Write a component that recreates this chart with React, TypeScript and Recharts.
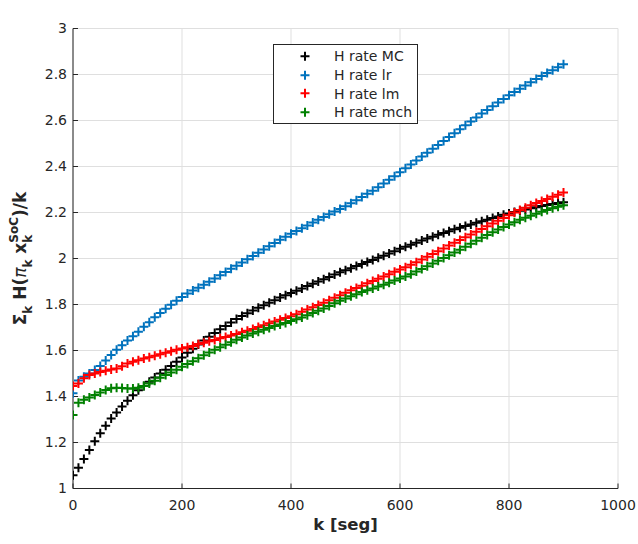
import React from 'react';
import { LineChart, Line, XAxis, YAxis, CartesianGrid, Legend, Label } from 'recharts';

const K = [0, 10, 20, 30, 40, 50, 60, 70, 80, 90, 100, 110, 120, 130, 140, 150, 160, 170, 180, 190, 200, 210, 220, 230, 240, 250, 260, 270, 280, 290, 300, 310, 320, 330, 340, 350, 360, 370, 380, 390, 400, 410, 420, 430, 440, 450, 460, 470, 480, 490, 500, 510, 520, 530, 540, 550, 560, 570, 580, 590, 600, 610, 620, 630, 640, 650, 660, 670, 680, 690, 700, 710, 720, 730, 740, 750, 760, 770, 780, 790, 800, 810, 820, 830, 840, 850, 860, 870, 880, 890, 900];

const H_MC = [1.058, 1.090, 1.128, 1.167, 1.205, 1.240, 1.273, 1.304, 1.330, 1.356,
  1.382, 1.405, 1.427, 1.446, 1.464, 1.483, 1.500, 1.516, 1.533, 1.551,
  1.570, 1.590, 1.608, 1.626, 1.643, 1.660, 1.676, 1.692, 1.707, 1.722,
  1.737, 1.750, 1.762, 1.774, 1.786, 1.797, 1.808, 1.819, 1.830, 1.840,
  1.850, 1.860, 1.870, 1.880, 1.890, 1.900, 1.910, 1.920, 1.930, 1.940,
  1.949, 1.958, 1.967, 1.976, 1.985, 1.994, 2.003, 2.012, 2.022, 2.032,
  2.042, 2.051, 2.060, 2.069, 2.078, 2.087, 2.095, 2.103, 2.111, 2.119,
  2.127, 2.134, 2.141, 2.148, 2.155, 2.162, 2.169, 2.176, 2.183, 2.190,
  2.196, 2.202, 2.208, 2.213, 2.218, 2.223, 2.228, 2.233, 2.237, 2.241, 2.245];

const H_LR = [1.414, 1.470, 1.486, 1.500, 1.515, 1.533, 1.556, 1.580, 1.603, 1.623,
  1.643, 1.662, 1.682, 1.703, 1.723, 1.745, 1.763, 1.781, 1.799, 1.816,
  1.833, 1.848, 1.861, 1.873, 1.886, 1.899, 1.913, 1.927, 1.941, 1.955,
  1.969, 1.983, 1.997, 2.011, 2.025, 2.039, 2.053, 2.067, 2.081, 2.095,
  2.108, 2.120, 2.132, 2.144, 2.156, 2.168, 2.180, 2.192, 2.204, 2.215,
  2.227, 2.240, 2.253, 2.267, 2.281, 2.295, 2.310, 2.326, 2.342, 2.358,
  2.375, 2.392, 2.409, 2.426, 2.443, 2.460, 2.477, 2.494, 2.511, 2.528,
  2.545, 2.562, 2.579, 2.596, 2.613, 2.630, 2.646, 2.662, 2.678, 2.694,
  2.710, 2.724, 2.738, 2.752, 2.766, 2.780, 2.793, 2.806, 2.819, 2.832, 2.845];

const H_LM = [1.446, 1.457, 1.479, 1.493, 1.500, 1.507, 1.512, 1.517, 1.522, 1.532,
  1.543, 1.551, 1.558, 1.565, 1.571, 1.577, 1.584, 1.590, 1.597, 1.603,
  1.609, 1.614, 1.620, 1.628, 1.634, 1.640, 1.646, 1.653, 1.659, 1.665,
  1.672, 1.679, 1.686, 1.694, 1.702, 1.710, 1.718, 1.726, 1.734, 1.741,
  1.749, 1.758, 1.768, 1.778, 1.788, 1.798, 1.808, 1.818, 1.829, 1.840,
  1.851, 1.862, 1.872, 1.882, 1.892, 1.902, 1.912, 1.922, 1.932, 1.942,
  1.952, 1.962, 1.973, 1.984, 1.996, 2.008, 2.020, 2.032, 2.044, 2.056,
  2.068, 2.080, 2.092, 2.104, 2.116, 2.128, 2.140, 2.152, 2.164, 2.176,
  2.188, 2.200, 2.211, 2.221, 2.231, 2.241, 2.250, 2.259, 2.268, 2.277, 2.287];

const H_MCH = [1.320, 1.373, 1.386, 1.396, 1.406, 1.417, 1.428, 1.436, 1.438, 1.437,
  1.435, 1.435, 1.438, 1.446, 1.457, 1.469, 1.481, 1.493, 1.504, 1.516,
  1.529, 1.541, 1.553, 1.566, 1.579, 1.591, 1.603, 1.614, 1.625, 1.636,
  1.647, 1.656, 1.665, 1.674, 1.682, 1.690, 1.698, 1.706, 1.713, 1.720,
  1.728, 1.736, 1.744, 1.753, 1.763, 1.773, 1.783, 1.794, 1.805, 1.816,
  1.826, 1.836, 1.845, 1.854, 1.862, 1.870, 1.878, 1.886, 1.895, 1.904,
  1.913, 1.922, 1.932, 1.943, 1.954, 1.966, 1.978, 1.990, 2.002, 2.014,
  2.026, 2.038, 2.051, 2.064, 2.077, 2.090, 2.102, 2.114, 2.126, 2.137,
  2.148, 2.158, 2.168, 2.177, 2.186, 2.195, 2.203, 2.211, 2.218, 2.225, 2.232];

const SERIES_NAMES = ['H rate MC', 'H rate lr', 'H rate lm', 'H rate mch'];
const SERIES_KEYS = ['mc', 'lr', 'lm', 'mch'];
const SERIES_COLORS = ['#000000', '#0072BD', '#FF0000', '#008000'];

const X_TICKS = [0, 200, 400, 600, 800, 1000];
const Y_TICKS = [1, 1.2, 1.4, 1.6, 1.8, 2, 2.2, 2.4, 2.6, 2.8, 3];

const TITLE = 'Evolucion H rate para una realizacion PACC';
const X_LABEL = 'k [seg]';

const data = K.map((k, i) => ({ k, mc: H_MC[i], lr: H_LR[i], lm: H_LM[i], mch: H_MCH[i] }));

const FONT = 'DejaVu Sans';
const AXIS_COLOR = '#262626';

const plusDot = (color: string) => (props: any) => {
  const { cx, cy, index } = props;
  if (cx == null || cy == null) return <g key={`e${index}`} />;
  return (
    <path
      key={`p${index}`}
      d={`M${cx - 4.5},${cy}H${cx + 4.5}M${cx},${cy - 4.5}V${cy + 4.5}`}
      stroke={color}
      strokeWidth={2}
      fill="none"
    />
  );
};

const LegendBox = () => (
  <div
    style={{
      position: 'relative',
      width: 145,
      height: 80,
      boxSizing: 'border-box',
      border: `1px solid ${AXIS_COLOR}`,
      background: '#ffffff',
      fontFamily: FONT,
      fontSize: 14,
      color: AXIS_COLOR,
    }}
  >
    {SERIES_NAMES.map((n, i) => (
      <div
        key={n}
        style={{
          position: 'absolute',
          left: 0,
          top: 2 + i * 18.7,
          height: 18.7,
          display: 'flex',
          alignItems: 'center',
          whiteSpace: 'nowrap',
        }}
      >
        <svg width={60} height={18.7} style={{ display: 'block' }}>
          <path d="M26.5,9.35H35.5M31,4.85V13.85" stroke={SERIES_COLORS[i]} strokeWidth={2} fill="none" />
        </svg>
        <span>{n}</span>
      </div>
    ))}
  </div>
);

export default function App() {
  const tickStyle = { fill: AXIS_COLOR, fontSize: 14, fontFamily: FONT };
  return (
    <div style={{ position: 'absolute', left: 0, top: 0, background: '#fff' }}>
      <LineChart
        width={638}
        height={544}
        data={data}
        margin={{ top: 28.5, right: 20, bottom: 25.5, left: 13 }}
      >
        <CartesianGrid stroke="#dfdfdf" strokeWidth={1} />
        <XAxis
          dataKey="k"
          type="number"
          domain={[0, 1000]}
          ticks={X_TICKS}
          allowDataOverflow
          height={30}
          stroke={AXIS_COLOR}
          tickSize={-5}
          tickMargin={17}
          tick={tickStyle}
        >
          <Label
            content={() => (
              <text x={345.5} y={530} textAnchor="middle" fontFamily={FONT} fontWeight="bold" fontSize={16.5} fill={AXIS_COLOR}>
                {X_LABEL}
              </text>
            )}
          />
        </XAxis>
        <XAxis
          xAxisId="top"
          orientation="top"
          type="number"
          domain={[0, 1000]}
          ticks={X_TICKS}
          allowDataOverflow
          height={0}
          stroke={AXIS_COLOR}
          tickSize={-5}
          tick={false}
        >
          <Label
            content={() => (
              <text x={345.5} y={20.5} textAnchor="middle" fontFamily={FONT} fontWeight="bold" fontSize={17} fill="#000000">
                {TITLE}
              </text>
            )}
          />
        </XAxis>
        <YAxis
          type="number"
          domain={[1, 3]}
          ticks={Y_TICKS}
          allowDataOverflow
          width={60}
          stroke={AXIS_COLOR}
          tickSize={-5}
          tickMargin={11}
          tick={tickStyle}
        >
          <Label
            content={() => (
              <text
                transform="translate(26,258.5) rotate(-90)"
                textAnchor="middle"
                fontFamily={FONT}
                fontWeight="bold"
                fontSize={17}
                fill={AXIS_COLOR}
              >
                <tspan>Σ</tspan>
                <tspan fontSize={12} dy={6}>k</tspan>
                <tspan dy={-6}> H(</tspan>
                <tspan fontWeight="normal" fontStyle="italic">π</tspan>
                <tspan fontSize={12} dy={6}>k</tspan>
                <tspan dy={-6}> x</tspan>
                <tspan fontSize={12} dy={6}>k</tspan>
                <tspan fontSize={12} dx={-8} dy={-14}>SoC</tspan>
                <tspan dy={8}>)/k</tspan>
              </text>
            )}
          />
        </YAxis>
        <YAxis
          yAxisId="right"
          orientation="right"
          type="number"
          domain={[1, 3]}
          ticks={Y_TICKS}
          allowDataOverflow
          width={0}
          stroke={AXIS_COLOR}
          tickSize={-5}
          tick={false}
        />
        {SERIES_KEYS.map((key, i) => (
          <Line
            key={key}
            dataKey={key}
            name={SERIES_NAMES[i]}
            stroke="none"
            fill="none"
            dot={plusDot(SERIES_COLORS[i])}
            activeDot={false}
            isAnimationActive={false}
          />
        ))}
        <Legend
          layout="horizontal"
          verticalAlign="middle"
          align="center"
          content={() => <LegendBox />}
          wrapperStyle={{ left: 273, top: 44, width: 145, height: 80, bottom: 'auto', right: 'auto' }}
        />
      </LineChart>
    </div>
  );
}
